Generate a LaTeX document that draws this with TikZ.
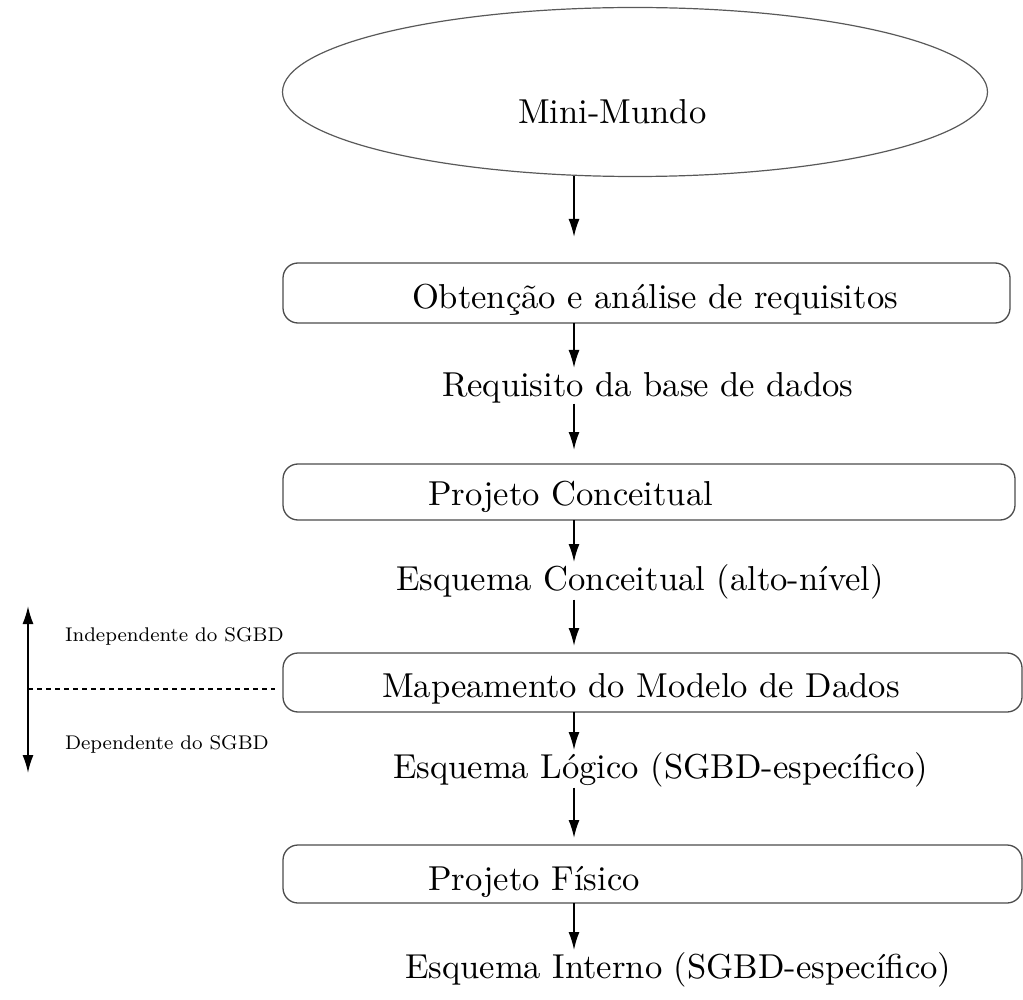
\documentclass[tikz,border=0pt]{standalone}
\usepackage{fontspec}
\usetikzlibrary{arrows.meta,shapes.geometric}
% Latin Modern at fixed optical sizes
\newfontfamily\labelfont{lmroman10-regular.otf}
\newfontfamily\notefont{lmroman8-regular.otf}
\begin{document}
\begin{tikzpicture}[x=0.5pt,y=-0.5pt,
  every node/.style={inner sep=0pt,outer sep=0pt},
  maintext/.style={font=\labelfont\fontsize{17.3}{20}\selectfont,anchor=base west},
  sidetext/.style={font=\notefont\fontsize{9.9}{12}\selectfont,anchor=base west},
  stepbox/.style={draw=black!70,line width=0.65pt,rounded corners=7.5pt,rectangle,anchor=north west},
  world/.style={draw=black!65,line width=0.6pt,ellipse},
  tip/.tip={Latex[length=9pt,width=5.5pt]},
  flow/.style={-tip,line width=0.9pt,black},
  scope arrow/.style={tip-tip,line width=0.9pt,black},
  divider/.style={line width=0.6pt,dash pattern=on 2.5pt off 2pt}
]
\useasboundingbox (0,0) rectangle (1023,1000);

% vertical axis of the flow
\coordinate (ax) at (574,0);

% mini-world
\node[world,minimum width=352.5pt,minimum height=84.5pt] (mm) at (635,92) {};
\node[maintext] (mmt) at (518,124) {Mini-Mundo};

% steps and their products
\node[stepbox,minimum width=363.5pt,minimum height=30pt] (b1) at (283,263) {};
\node[maintext] (t1) at (412,308) {Obtenção e análise de requisitos};
\node[maintext] (p1) at (442,396) {Requisito da base de dados};

\node[stepbox,minimum width=366pt,minimum height=28pt] (b2) at (283,464) {};
\node[maintext] (t2) at (428,505) {Projeto Conceitual};
\node[maintext] (p2) at (396,590) {Esquema Conceitual (alto-nível)};

\node[stepbox,minimum width=369.5pt,minimum height=29.5pt] (b3) at (283,653) {};
\node[maintext] (t3) at (382,697) {Mapeamento do Modelo de Dados};
\node[maintext] (p3) at (393,778) {Esquema Lógico (SGBD-específico)};

\node[stepbox,minimum width=369.5pt,minimum height=29pt] (b4) at (283,845) {};
\node[maintext] (t4) at (428,890) {Projeto Físico};
\node[maintext] (p4) at (405,978) {Esquema Interno (SGBD-específico)};

% flow arrows
\draw[flow,shorten >=13pt] (mm.south -| ax) -- (b1.north -| ax);
\draw[flow,shorten >=2pt] (b1.south -| ax) -- (p1.north -| ax);
\draw[flow,shorten <=0.5pt,shorten >=7pt] (p1.south -| ax) -- (b2.north -| ax);
\draw[flow,shorten >=1pt] (b2.south -| ax) -- (p2.north -| ax);
\draw[flow,shorten <=0.5pt,shorten >=3.5pt] (p2.south -| ax) -- (b3.north -| ax);
\draw[flow,shorten >=1pt] (b3.south -| ax) -- (p3.north -| ax);
\draw[flow,shorten <=0.5pt,shorten >=3.5pt] (p3.south -| ax) -- (b4.north -| ax);
\draw[flow,shorten >=1pt] (b4.south -| ax) -- (p4.north -| ax);

% DBMS dependence scale
\coordinate (up) at (28,606);
\coordinate (down) at (28,773);
\coordinate (mid) at (28,689);
\draw[scope arrow] (down) -- (up);
\draw[divider,shorten >=4pt] (mid) -- (mid -| b3.west);
\node[sidetext] (ind) at (65,641) {Independente do SGBD};
\node[sidetext] (dep) at (65,749) {Dependente do SGBD};
\end{tikzpicture}
\end{document}
